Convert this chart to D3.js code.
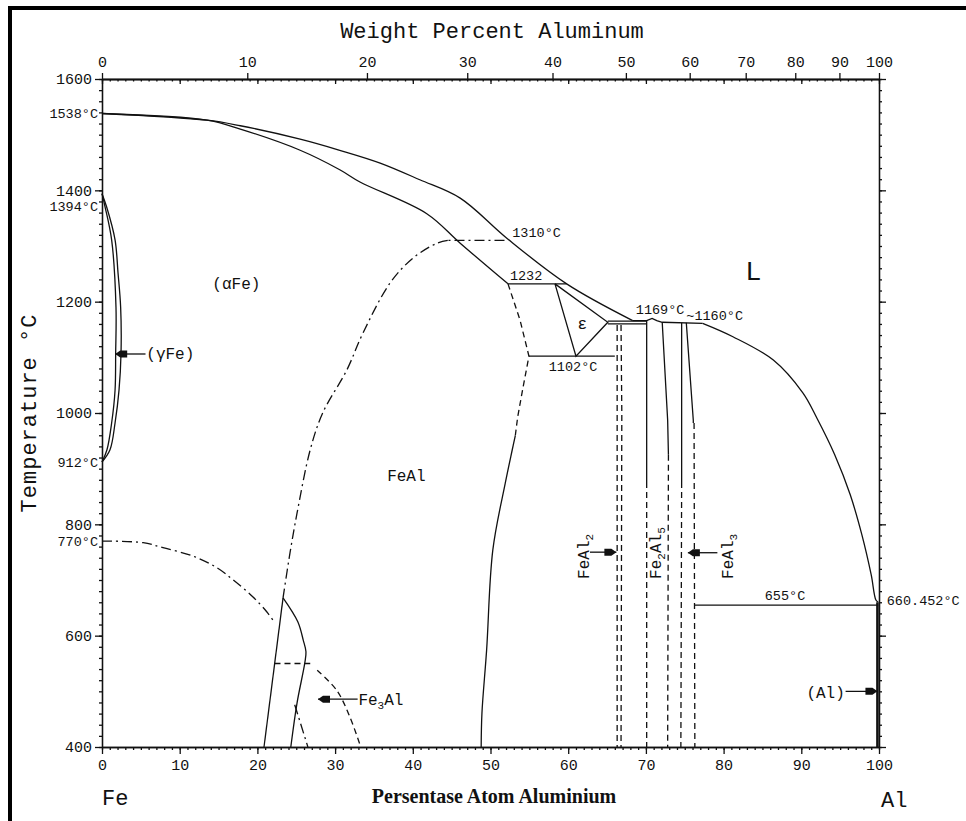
<!DOCTYPE html>
<html>
<head>
<meta charset="utf-8">
<title>Fe-Al phase diagram</title>
<script src="https://d3js.org/d3.v7.min.js"></script>
<style>
  body { margin: 0; background: #fff; }
  svg text { font-family: "Liberation Mono", "DejaVu Sans Mono", monospace; fill: #111; }
  .solid { fill: none; stroke: #111; stroke-width: 1.3; }
  .dashed { fill: none; stroke: #111; stroke-width: 1.3; stroke-dasharray: 6,4; }
  .dashdot { fill: none; stroke: #111; stroke-width: 1.3; stroke-dasharray: 10,4,2,4; }
  .thick { fill: none; stroke: #111; stroke-width: 2.6; }
  .axis path, .axis line { stroke: #111; stroke-width: 1.3; }
</style>
</head>
<body>
<svg id="chart" width="966" height="821"></svg>
<script>

// axis ticks
var tempMajor = d3.range(400, 1601, 200);
var tempMinor = d3.range(400, 1601, 20);
var atMajor = d3.range(0, 101, 10);
var atMinor = d3.range(0, 101, 1);
var wtMajor = d3.range(0, 101, 10);
var refTemps = [1538, 1394, 912, 770];

// phase boundaries, [at% Al, temperature C]
var liquidusFe = [[0,1538],[13.5,1526],[17.8,1516],[25.5,1492],[30.6,1472],[35.8,1449],[40.9,1419],[46.1,1386],[52.1,1314],[59.8,1232],[68.3,1166]];
var fe2al5Top = [[68.3,1166],[70.1,1166],[70.8,1170],[71.4,1166],[72.1,1163],[77.3,1161]];
var liquidusAl = [[77.3,1161],[81.2,1137],[86.4,1095],[90.2,1036],[92.0,991],[94.3,925],[96.3,853],[97.8,781],[99.0,709],[99.6,664],[99.9,660]];
var solidusAlpha = [[0,1538],[13.5,1526],[17.8,1510],[25.5,1472],[30.6,1437],[33.2,1415],[41.8,1358],[46.1,1305],[52.25,1232]];
var gammaOuter = [[0,1394],[0.6,1370],[1.68,1311],[2.06,1252],[2.4,1190],[2.45,1108],[2.19,1041],[1.68,982],[1.03,934],[0,912]];
var gammaInner = [[0,1394],[0.4,1370],[1.24,1311],[1.8,1190],[1.76,1108],[1.68,1041],[1.24,982],[0.64,934],[0,912]];
var line1232 = [[52.25,1232],[59.8,1232]];
var line1102 = [[54.95,1102],[66.0,1102]];
var epsilon = [[58.3,1232],[61.0,1102],[65.1,1163],[58.3,1232]];
var ledgeA = [[65.1,1165],[70.1,1165]];
var ledgeB = [[65.1,1160],[70.1,1160]];
var b2Dashed = [[52.25,1232],[53.8,1167],[54.95,1102],[54.2,1047],[53.5,993],[53.2,960]];
var b2Solid = [[53.2,960],[52.8,934],[51.9,874],[50.3,754],[49.5,574],[48.9,461],[48.8,400]];
var orderFlat = [[51.8,1310],[44.5,1310]];
var orderA2B2 = [[44.5,1310],[43.1,1305],[40.0,1278],[37.1,1234],[33.6,1144],[31.5,1077],[28.4,1000],[26.8,934],[25.1,820],[24.2,749],[23.3,668]];
var orderLow = [[24.8,476],[26.5,400]];
var curieTc = [[0,770],[5.3,767],[7.85,758],[11.7,743],[14.8,722],[16.9,700],[19.4,670],[21.2,643],[22.0,628]];
var curieLow = [[27.7,538],[30.2,502],[31.9,454],[33.2,404]];
var fe3alLeft = [[23.3,668],[20.85,400]];
var fe3alRight = [[23.3,668],[25.2,625],[25.9,592],[26.25,571],[26.1,551],[25.1,479],[24.3,400]];
var fe3al550 = [[22.2,550],[26.8,550]];
var feal2Left = [[66.3,1158],[66.3,400]];
var feal2Right = [[66.8,1158],[66.9,1000],[66.8,400]];
var fe2al5LeftS = [[70.1,1166],[70.1,876]];
var fe2al5LeftD = [[70.1,876],[70.1,400]];
var fe2al5RightS = [[72.1,1163],[72.8,987],[72.9,925]];
var fe2al5RightD = [[72.9,925],[72.8,400]];
var feal3LeftS = [[74.6,1162],[74.6,876]];
var feal3LeftD = [[74.6,876],[74.5,400]];
var feal3RightS = [[75.2,1162],[76.1,987],[76.1,982]];
var feal3RightD = [[76.2,982],[76.3,400]];
var line655 = [[76.3,655],[99.9,655]];
var alSolvus = [[99.8,660],[99.8,400]];

// arrows: [from at%, to at%, temperature]
var arrows = [[5.6,1.7,1106],[62.8,66.2,750],[79.2,75.4,749],[32.9,27.8,486],[95.7,99.8,500]];

// text labels: [text, at%, temperature, anchor]
var tempLabels = [["1310°C",52.8,1316,"start"],["1232",52.5,1239,"start"],["1102°C",57.5,1075,"start"],
  ["1169°C",68.7,1178,"start"],["~1160°C",75.2,1167,"start"],["655°C",85.3,664,"start"],["660.452°C",101.0,655,"start"]];
var phaseLabels = [["(αFe)",14.2,1223,"start"],["(γFe)",5.7,1097,"start"],["FeAl",36.7,878,"start"],
  ["ε",61.8,1151,"middle"],["(Al)",95.6,488,"end"]];

var svg = d3.select("#chart");
var x = d3.scaleLinear().domain([0, 100]).range([102, 879]);
var y = d3.scaleLinear().domain([400, 1600]).range([747, 79]);

function wtToAt(w) {
  if (w >= 100) return 100;
  var al = w / 26.982, fe = (100 - w) / 55.845;
  return 100 * al / (al + fe);
}

// frame of the scanned page
svg.append("line").attr("x1", 8).attr("x2", 966).attr("y1", 8).attr("y2", 8)
   .attr("stroke", "#000").attr("stroke-width", 4);
svg.append("line").attr("x1", 10).attr("x2", 10).attr("y1", 6).attr("y2", 821)
   .attr("stroke", "#000").attr("stroke-width", 4);

function axis(gen, tx, ty) {
  var g = svg.append("g").attr("class", "axis").attr("transform", "translate(" + tx + "," + ty + ")").call(gen);
  g.attr("font-family", null).attr("font-size", 15);
  return g;
}

// left
axis(d3.axisLeft(y).tickValues(tempMinor).tickSize(3).tickSizeOuter(0).tickFormat(""), 102, 0);
axis(d3.axisLeft(y).tickValues(tempMajor).tickSize(7).tickSizeOuter(0).tickPadding(3).tickFormat(d3.format("d")), 102, 0);
// right
axis(d3.axisRight(y).tickValues(tempMinor).tickSize(3).tickSizeOuter(0).tickFormat(""), 879, 0);
axis(d3.axisRight(y).tickValues(tempMajor).tickSize(7).tickSizeOuter(0).tickFormat(""), 879, 0);
// bottom
axis(d3.axisBottom(x).tickValues(atMinor).tickSize(3).tickSizeOuter(0).tickFormat(""), 0, 747);
axis(d3.axisBottom(x).tickValues(atMajor).tickSize(7).tickSizeOuter(0).tickPadding(5).tickFormat(d3.format("d")), 0, 747);
// top: atomic ticks inward, weight ticks outward
axis(d3.axisBottom(x).tickValues(atMinor).tickSize(2.5).tickSizeOuter(0).tickFormat(""), 0, 79);
axis(d3.axisBottom(x).tickValues(atMajor).tickSize(5).tickSizeOuter(0).tickFormat(""), 0, 79);
axis(d3.axisTop(x).tickValues(wtMajor.map(wtToAt)).tickSize(6).tickSizeOuter(0).tickPadding(6)
       .tickFormat(function(d, i) { return wtMajor[i]; }), 0, 79);

// reference temperatures at Fe side
svg.append("g").selectAll("text").data(refTemps).enter().append("text")
   .attr("x", 98)
   .attr("y", function(d) { return y(d) + (d === 1394 ? 13 : 0); })
   .attr("dy", "0.35em").attr("text-anchor", "end").attr("font-size", 13.5)
   .text(function(d) { return d + "°C"; });

// boundaries
var smooth = d3.line().x(function(d) { return x(d[0]); }).y(function(d) { return y(d[1]); }).curve(d3.curveCatmullRom);
var straight = d3.line().x(function(d) { return x(d[0]); }).y(function(d) { return y(d[1]); });

var boundaries = [
  [liquidusFe, "solid", smooth], [fe2al5Top, "solid", straight], [liquidusAl, "solid", smooth],
  [solidusAlpha, "solid", smooth], [gammaOuter, "solid", smooth], [gammaInner, "solid", smooth],
  [line1232, "solid", straight], [line1102, "solid", straight], [epsilon, "solid", straight],
  [ledgeA, "solid", straight], [ledgeB, "solid", straight],
  [b2Dashed, "dashed", straight], [b2Solid, "solid", smooth],
  [orderFlat, "dashdot", straight], [orderA2B2, "dashdot", smooth], [orderLow, "dashdot", straight],
  [curieTc, "dashdot", smooth], [curieLow, "dashed", smooth],
  [fe3alLeft, "solid", straight], [fe3alRight, "solid", smooth], [fe3al550, "dashed", straight],
  [feal2Left, "dashed", straight], [feal2Right, "dashed", straight],
  [fe2al5LeftS, "solid", straight], [fe2al5LeftD, "dashed", straight],
  [fe2al5RightS, "solid", straight], [fe2al5RightD, "dashed", straight],
  [feal3LeftS, "solid", straight], [feal3LeftD, "dashed", straight],
  [feal3RightS, "solid", straight], [feal3RightD, "dashed", straight],
  [line655, "solid", straight], [alSolvus, "thick", straight]
];

svg.append("g").selectAll("path").data(boundaries).enter().append("path")
   .attr("class", function(d) { return d[1]; })
   .attr("d", function(d) { return d[2](d[0]); });

// arrows
var ag = svg.append("g");
arrows.forEach(function(a) {
  var x1 = x(a[0]), x2 = x(a[1]), yy = y(a[2]), s = x2 > x1 ? 1 : -1;
  ag.append("line").attr("x1", x1).attr("x2", x2).attr("y1", yy).attr("y2", yy)
    .attr("stroke", "#111").attr("stroke-width", 1.3);
  ag.append("polygon").attr("fill", "#111")
    .attr("points", [[x2, yy], [x2 - s * 5, yy - 3.5], [x2 - s * 12, yy - 3.5], [x2 - s * 12, yy + 3.5], [x2 - s * 5, yy + 3.5]].join(" "));
});

// labels
svg.append("g").selectAll("text").data(tempLabels).enter().append("text")
   .attr("x", function(d) { return x(d[1]); }).attr("y", function(d) { return y(d[2]); })
   .attr("text-anchor", function(d) { return d[3]; }).attr("font-size", 13.5)
   .text(function(d) { return d[0]; });

svg.append("g").selectAll("text").data(phaseLabels).enter().append("text")
   .attr("x", function(d) { return x(d[1]); }).attr("y", function(d) { return y(d[2]); })
   .attr("text-anchor", function(d) { return d[3]; }).attr("font-size", 16)
   .text(function(d) { return d[0]; });

svg.append("text").attr("x", x(82.8)).attr("y", y(1239)).attr("font-size", 27).text("L");

// compound labels with subscripts
function compound(parts, ax, at, rotate) {
  var t = svg.append("text").attr("font-size", 16)
    .attr("transform", "translate(" + x(ax) + "," + y(at) + ")" + (rotate ? " rotate(-90)" : ""));
  var sub = false;
  parts.forEach(function(p, i) {
    var isSub = i % 2 === 1;
    var ts = t.append("tspan").text(p);
    if (isSub) ts.attr("font-size", 11).attr("dy", 4);
    else if (sub) ts.attr("dy", -4);
    sub = isSub;
  });
}
compound(["Fe", "3", "Al"], 33.0, 475, false);
compound(["FeAl", "2"], 62.7, 702, true);
compound(["Fe", "2", "Al", "5"], 71.9, 702, true);
compound(["FeAl", "3"], 81.2, 702, true);

// axis titles
svg.append("text").attr("x", 492).attr("y", 38).attr("text-anchor", "middle").attr("font-size", 22)
   .text("Weight Percent Aluminum");
svg.append("text").attr("transform", "translate(36,413) rotate(-90)").attr("text-anchor", "middle")
   .attr("font-size", 22).attr("letter-spacing", 1).text("Temperature °C");
svg.append("text").attr("x", 494).attr("y", 803).attr("text-anchor", "middle")
   .style("font-family", "'Liberation Serif', 'Times New Roman', serif").attr("font-weight", "bold")
   .attr("font-size", 20).text("Persentase Atom Aluminium");
svg.append("text").attr("x", 102).attr("y", 805).attr("font-size", 22).text("Fe");
svg.append("text").attr("x", 881).attr("y", 807).attr("font-size", 22).text("Al");

</script>
</body>
</html>
